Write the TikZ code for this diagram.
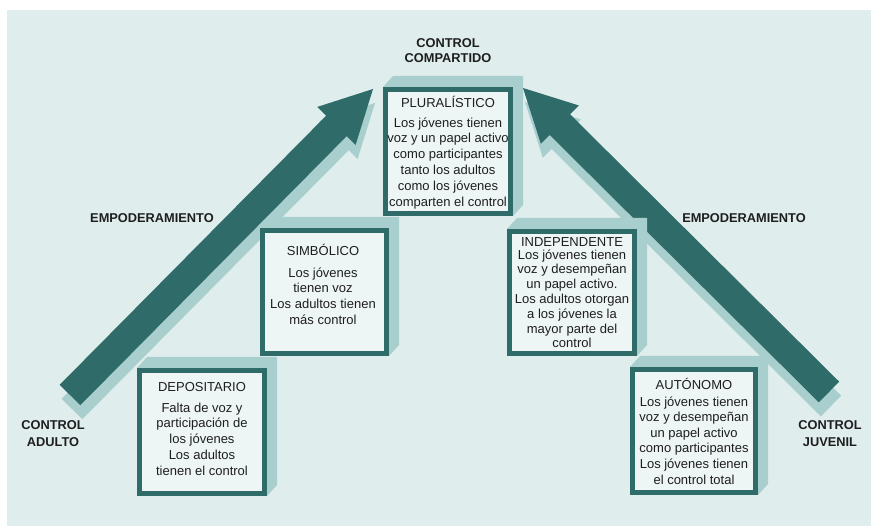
\documentclass[tikz,border=0pt]{standalone}
\usepackage{fontspec}
\setmainfont{Liberation Sans}
\usetikzlibrary{calc}
\definecolor{bgc}{HTML}{DFEDEC}
\definecolor{darkt}{HTML}{2F6B69}
\definecolor{lightt}{HTML}{A8CECE}
\definecolor{boxf}{HTML}{EEF5F5}
\definecolor{txt}{HTML}{1E1E1E}
\newcommand{\mkarrow}[3]{%
  \coordinate (#1h) at ($(#2)!52pt!(#1)$);
  \fill[#3] ($(#1)!14.5pt!90:(#2)$) -- ($(#1h)!14.5pt!90:(#2)$) -- ($(#1h)!27pt!90:(#2)$) -- (#2)
    -- ($(#1h)!27pt!-90:(#2)$) -- ($(#1h)!14.5pt!-90:(#2)$) -- ($(#1)!14.5pt!-90:(#2)$) -- cycle;}
\newcommand{\mkbox}[4]{%
  \fill[lightt] (#1,#2) -- ({#1+10},{#2-11}) -- ({#3+10},{#2-11}) -- ({#3+10},{#4-11}) -- (#3,#4) -- (#3,#2) -- cycle;
  \draw[darkt, line width=5pt, fill=boxf] ({#1+2.5},{#2+2.5}) rectangle ({#3-2.5},{#4-2.5});}
\newcommand{\fl}{\rule{0pt}{11pt}}
\tikzset{
  ttl/.style={font=\fontsize{13}{16}\selectfont, text=txt, anchor=base, inner sep=0pt},
  body/.style={align=center, text=txt, anchor=north, inner sep=0pt},
  lab/.style={align=center, text=txt, anchor=north, inner sep=0pt},
}
\begin{document}
\begin{tikzpicture}[x=1pt, y=-1pt]
\useasboundingbox (0,0) rectangle (871,526);
\fill[white] (0,0) rectangle (871,526);
\fill[bgc] (7,10) rectangle (871,526);
% arrows
\coordinate (LTs) at (72,409);
\coordinate (LPs) at (375,103);
\coordinate (RTs) at (831,406);
\coordinate (RPs) at (525,102);
\coordinate (LT) at (70,395);
\coordinate (LP) at (373,89);
\coordinate (RT) at (829,392);
\coordinate (RP) at (523,88);
\mkarrow{LTs}{LPs}{lightt}
\mkarrow{RTs}{RPs}{lightt}
\mkarrow{LT}{LP}{darkt}
\mkarrow{RT}{RP}{darkt}
% boxes
\mkbox{383}{87}{513}{216}
\mkbox{137}{368}{267}{496}
\mkbox{260}{228}{389}{356}
\mkbox{507}{229}{637}{356}
\mkbox{630}{367}{758}{495}
% box texts
\node[ttl] (plurT) at (448,107.5) {PLURALÍSTICO};
\node[body, font=\fontsize{13}{15.8}\selectfont] (plurB) at (448,116) {\fl Los jóvenes tienen\\voz y un papel activo\\como participantes\\tanto los adultos\\como los jóvenes\\comparten el control};
\node[ttl] (depoT) at (202,391.5) {DEPOSITARIO};
\node[body, font=\fontsize{13}{15.8}\selectfont] (depoB) at (202,401) {\fl Falta de voz y\\participación de\\los jóvenes\\Los adultos\\tienen el control};
\node[ttl] (simbT) at (323,255.5) {SIMBÓLICO};
\node[body, font=\fontsize{13}{15.7}\selectfont] (simbB) at (323,266) {\fl Los jóvenes\\tienen voz\\Los adultos tienen\\más control};
\node[ttl] (indT) at (572,246.5) {INDEPENDENTE};
\node[body, font=\fontsize{13}{14.8}\selectfont] (indB) at (572,248) {\fl Los jóvenes tienen\\voz y desempeñan\\un papel activo.\\Los adultos otorgan\\a los jóvenes la\\mayor parte del\\control};
\node[ttl] (autT) at (694,389.5) {AUTÓNOMO};
\node[body, font=\fontsize{13}{15.6}\selectfont] (autB) at (694,395) {\fl Los jóvenes tienen\\voz y desempeñan\\un papel activo\\como participantes\\Los jóvenes tienen\\el control total};
% labels
\node[lab, font=\bfseries\fontsize{12.8}{14.3}\selectfont] (comp) at (448,37.6) {\rule{0pt}{10pt}CONTROL\\COMPARTIDO};
\node[lab, font=\bfseries\fontsize{12.8}{17}\selectfont] (adul) at (53,419.6) {\rule{0pt}{10pt}CONTROL\\ADULTO};
\node[lab, font=\bfseries\fontsize{12.8}{17}\selectfont] (juve) at (830,419.6) {\rule{0pt}{10pt}CONTROL\\JUVENIL};
\node[ttl, font=\bfseries\fontsize{12.8}{14}\selectfont] (empL) at (152,222.6) {EMPODERAMIENTO};
\node[ttl, font=\bfseries\fontsize{12.8}{14}\selectfont] (empR) at (744,222.6) {EMPODERAMIENTO};
\end{tikzpicture}
\end{document}
